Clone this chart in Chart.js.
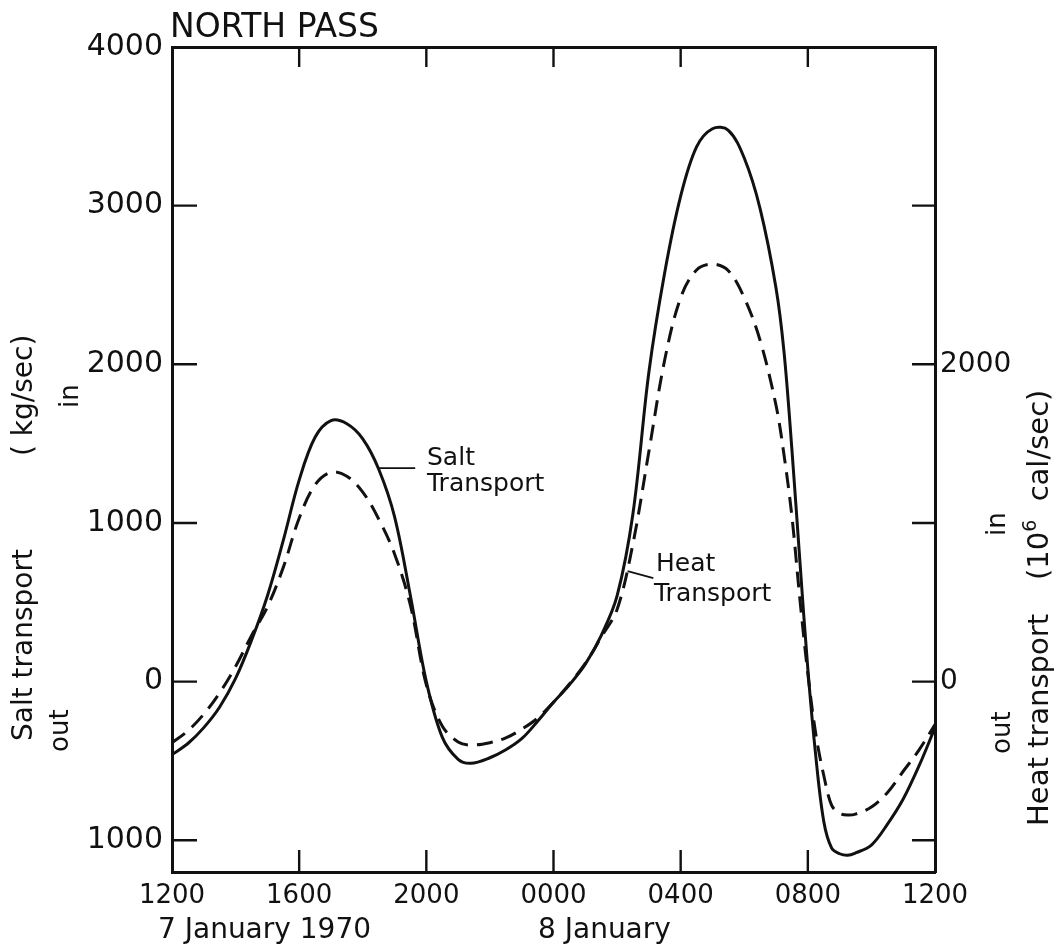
<!DOCTYPE html>
<html><head><meta charset="utf-8">
<script src="https://cdn.jsdelivr.net/npm/chart.js@4/dist/chart.umd.min.js"></script>
<style>
html,body{margin:0;padding:0;background:#fff;}
#wrap{position:relative;width:1057px;height:946px;overflow:hidden;font-family:"DejaVu Sans",sans-serif;color:#111;}
#c{position:absolute;left:0;top:0;}
.t{position:absolute;white-space:nowrap;line-height:1;}
.r{transform-origin:0 0;transform:rotate(-90deg);}
sup{font-size:0.65em;position:relative;top:-0.15em;vertical-align:top;}
</style></head><body>
<div id="wrap">
<canvas id="c" width="1057" height="946" style="width:1057px;height:946px"></canvas>
<div class="t" style="left:170px;top:9px;font-size:33px;">NORTH PASS</div>
<div class="t" style="left:427px;top:444px;font-size:25px;">Salt</div>
<div class="t" style="left:427px;top:470px;font-size:25px;">Transport</div>
<div class="t" style="left:656px;top:550px;font-size:25px;">Heat</div>
<div class="t" style="left:654px;top:580px;font-size:25px;">Transport</div>
<div class="t" style="left:158px;top:915px;font-size:28px;">7 January 1970</div>
<div class="t" style="left:538px;top:915px;font-size:28px;">8 January</div>
<div class="t r" style="left:9px;top:741px;font-size:28px;">Salt transport</div>
<div class="t r" style="left:9px;top:456px;font-size:28px;">( kg/sec)</div>
<div class="t r" style="left:46px;top:752px;font-size:26px;">out</div>
<div class="t r" style="left:56px;top:408px;font-size:26px;">in</div>
<div class="t r" style="left:1024px;top:826px;font-size:29px;">Heat transport</div>
<div class="t r" style="left:1024px;top:580px;font-size:29px;">(10<sup>6</sup>&nbsp; cal/sec)</div>
<div class="t r" style="left:988px;top:754px;font-size:26px;">out</div>
<div class="t r" style="left:983px;top:536px;font-size:26px;">in</div>
</div>
<script>
// ---- data (hours after 1200, 7 January 1970) ----
const hours = [0,0.5,1,1.5,2,2.5,3,3.5,4,4.5,5,5.5,6,6.5,7,7.5,8,8.5,9,9.4,10,10.5,11,11.5,12,12.5,13,13.5,14,14.5,15,15.5,16,16.5,17,17.5,18,18.5,19,19.25,19.5,19.75,20,20.25,20.5,20.75,21,21.25,21.5,22,22.5,23,23.5,24];
const saltTransport = [-460,-390,-290,-160,20,260,540,890,1270,1540,1645,1625,1530,1340,1040,540,0,-350,-490,-515,-480,-430,-360,-250,-130,-20,110,290,540,1060,1950,2580,3060,3370,3485,3475,3300,2980,2480,2080,1460,760,80,-470,-880,-1050,-1085,-1095,-1080,-1030,-900,-740,-530,-290];
const heatTransport = [-385,-310,-205,-70,95,290,470,720,1030,1240,1320,1295,1195,1025,805,480,-20,-280,-380,-400,-385,-355,-300,-230,-130,-15,115,280,455,870,1450,2030,2420,2595,2632,2590,2420,2150,1740,1430,1040,520,50,-330,-590,-780,-830,-841,-835,-790,-700,-565,-430,-270];
const xTickHours = [0,4,8,12,16,20,24];
const xTickLabels = ['1200','1600','2000','0000','0400','0800','1200'];
const yTickValues = [-1000,0,1000,2000,3000,4000];
const rightTickLabels = [2000,0];
const X_MIN = 0, X_MAX = 24, Y_MIN = -1200, Y_MAX = 4000;
// annotation leader lines in data coordinates [x1,y1,x2,y2]
const saltLeader = [6.45,1346,7.65,1346];
const heatLeader = [14.33,697,15.14,652];

const INK = '#111';
const pts = (xs, ys) => xs.map((x,i)=>({x, y: ys[i]}));

const inwardTicks = {
  id:'inwardTicks',
  afterDraw(chart){
    const {ctx, chartArea:a, scales} = chart;
    ctx.save();
    ctx.strokeStyle = INK; ctx.lineWidth = 2.4; ctx.lineCap = 'butt';
    ctx.beginPath();
    for (const v of xTickHours){
      if (v<=X_MIN || v>=X_MAX) continue;
      const px = scales.x.getPixelForValue(v);
      ctx.moveTo(px, a.bottom); ctx.lineTo(px, a.bottom-22);
      const pt = scales.x2.getPixelForValue(v);
      ctx.moveTo(pt, a.top); ctx.lineTo(pt, a.top+20);
    }
    for (const v of yTickValues){
      if (v<=Y_MIN || v>=Y_MAX) continue;
      const py = scales.y.getPixelForValue(v);
      ctx.moveTo(a.left, py); ctx.lineTo(a.left+25, py);
      const py2 = scales.y2.getPixelForValue(v);
      ctx.moveTo(a.right, py2); ctx.lineTo(a.right-23, py2);
    }
    ctx.stroke();
    ctx.lineWidth = 1.8;
    ctx.beginPath();
    for (const L of [saltLeader, heatLeader]){
      ctx.moveTo(scales.x.getPixelForValue(L[0]), scales.y.getPixelForValue(L[1]));
      ctx.lineTo(scales.x.getPixelForValue(L[2]), scales.y.getPixelForValue(L[3]));
    }
    ctx.stroke();
    ctx.restore();
  }
};

const fontFam = '"DejaVu Sans", sans-serif';
const border = {display:true, color:INK, width:3};

new Chart(document.getElementById('c'), {
  type:'line',
  data:{ datasets:[
    {label:'Salt Transport', data:pts(hours, saltTransport), xAxisID:'x', yAxisID:'y',
     borderColor:INK, borderWidth:3, pointRadius:0, tension:0.35, fill:false},
    {label:'Heat Transport', data:pts(hours, heatTransport), xAxisID:'x', yAxisID:'y2',
     borderColor:INK, borderWidth:3, borderDash:[16,9], pointRadius:0, tension:0.35, fill:false}
  ]},
  options:{
    responsive:false, animation:false, devicePixelRatio:1,
    layout:{padding:0},
    plugins:{legend:{display:false}, tooltip:{enabled:false}, title:{display:false}},
    scales:{
      x:{type:'linear', position:'bottom', min:X_MIN, max:X_MAX,
        afterBuildTicks:s=>{s.ticks = xTickHours.map(v=>({value:v}));},
        afterFit:s=>{s.height = 74;},
        grid:{display:false, drawTicks:false}, border,
        ticks:{color:INK, font:{family:fontFam, size:26}, padding:9, maxRotation:0, autoSkip:false,
          callback:v=>xTickLabels[xTickHours.indexOf(v)] ?? ''}},
      x2:{type:'linear', position:'top', min:X_MIN, max:X_MAX,
        afterBuildTicks:s=>{s.ticks = xTickHours.map(v=>({value:v}));},
        afterFit:s=>{s.height = 47;},
        grid:{display:false, drawTicks:false}, border, ticks:{display:false}},
      y:{type:'linear', position:'left', min:Y_MIN, max:Y_MAX,
        afterBuildTicks:s=>{s.ticks = yTickValues.map(v=>({value:v}));},
        afterFit:s=>{s.width = 172;},
        grid:{display:false, drawTicks:false}, border,
        ticks:{color:INK, font:{family:fontFam, size:30}, padding:9, autoSkip:false,
          callback:v=>String(Math.abs(v))}},
      y2:{type:'linear', position:'right', min:Y_MIN, max:Y_MAX,
        afterBuildTicks:s=>{s.ticks = yTickValues.map(v=>({value:v}));},
        afterFit:s=>{s.width = 122;},
        grid:{display:false, drawTicks:false}, border,
        ticks:{color:INK, font:{family:fontFam, size:28}, padding:5, autoSkip:false,
          callback:v=>rightTickLabels.includes(v) ? String(v) : ''}}
    }
  },
  plugins:[inwardTicks]
});
</script>
</body></html>
